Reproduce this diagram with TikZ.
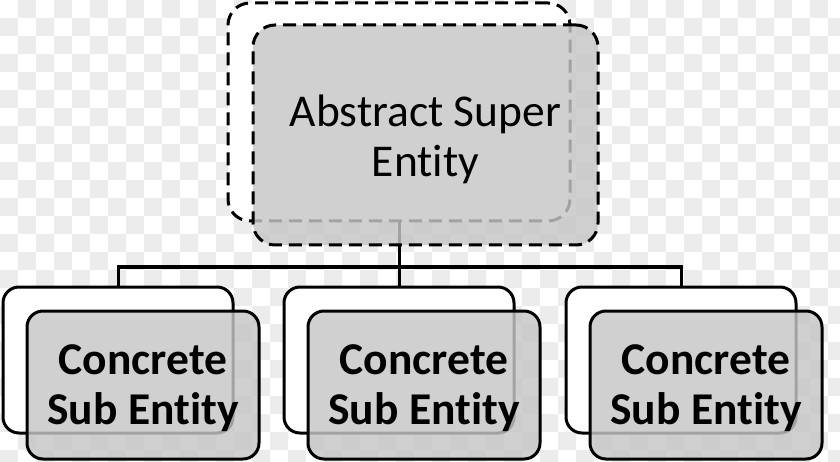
\documentclass[tikz,border=0pt]{standalone}
\usepackage{fontspec}
\setmainfont[Ligatures={NoCommon}]{Carlito}
\definecolor{chk}{RGB}{236,236,236}
\definecolor{boxgrey}{RGB}{198,198,198}
\begin{document}
\begin{tikzpicture}[x=1pt,y=-1pt,
  bigtext/.style={font=\fontsize{45.5}{50}\selectfont, align=center, inner sep=0pt},
  boldtext/.style={bigtext, font=\fontsize{45.5}{50}\selectfont\bfseries},
  absback/.style={draw=black, line width=3pt, dash pattern=on 13pt off 7pt, rounded corners=22pt, fill=white, minimum width=342pt, minimum height=218pt, inner sep=0pt, outer sep=0pt},
  absfront/.style={absback, fill=boxgrey, fill opacity=0.82, minimum width=345pt, minimum height=220pt},
  subback/.style={draw=black, line width=3pt, rounded corners=16pt, fill=white, minimum width=230pt, minimum height=146pt, inner sep=0pt, outer sep=0pt},
  subfront/.style={subback, fill=boxgrey, fill opacity=0.82, minimum width=232pt, minimum height=148pt},
  conn/.style={draw=black, line width=3pt}]
\useasboundingbox (0,0) rectangle (840,462);
\fill[white] (0,0) rectangle (840,462);
\begin{scope}
\clip (0,0) rectangle (840,462);
\foreach \i in {0,...,46}{\foreach \j in {0,...,25}{%
  \pgfmathtruncatemacro\s{\i+\j}%
  \ifodd\s \fill[chk] (\i*18,\j*18) rectangle ++(18,18);\fi}}
\end{scope}
% back boxes
\node[absback] (ab) at (399,112) {};
\node[subback] (s1b) at (118,360) {};
\node[subback] (s2b) at (399,360) {};
\node[subback] (s3b) at (681,360) {};
% connectors
\coordinate (bus) at (399,267);
\draw[conn] (ab.south) -- (ab.south |- bus);
\draw[conn, line cap=rect] (s1b.north |- bus) -- (s3b.north |- bus);
\foreach \s in {s1b,s2b,s3b}{\draw[conn] (\s.north |- bus) -- (\s.north);}
% front boxes
\node[absfront] (af) at (425.5,135) {};
\node[subfront] (s1f) at (143,385) {};
\node[subfront] (s2f) at (424,385) {};
\node[subfront] (s3f) at (706,385) {};
% texts
\node[bigtext] (aft) at ([yshift=-4pt]af.center) {Abstract Super\\Entity};
\node[boldtext] (s1t) at ([yshift=-3pt]s1f.center) {Concrete\\Sub Entity};
\node[boldtext] (s2t) at ([yshift=-3pt]s2f.center) {Concrete\\Sub Entity};
\node[boldtext] (s3t) at ([yshift=-3pt]s3f.center) {Concrete\\Sub Entity};
\end{tikzpicture}
\end{document}
